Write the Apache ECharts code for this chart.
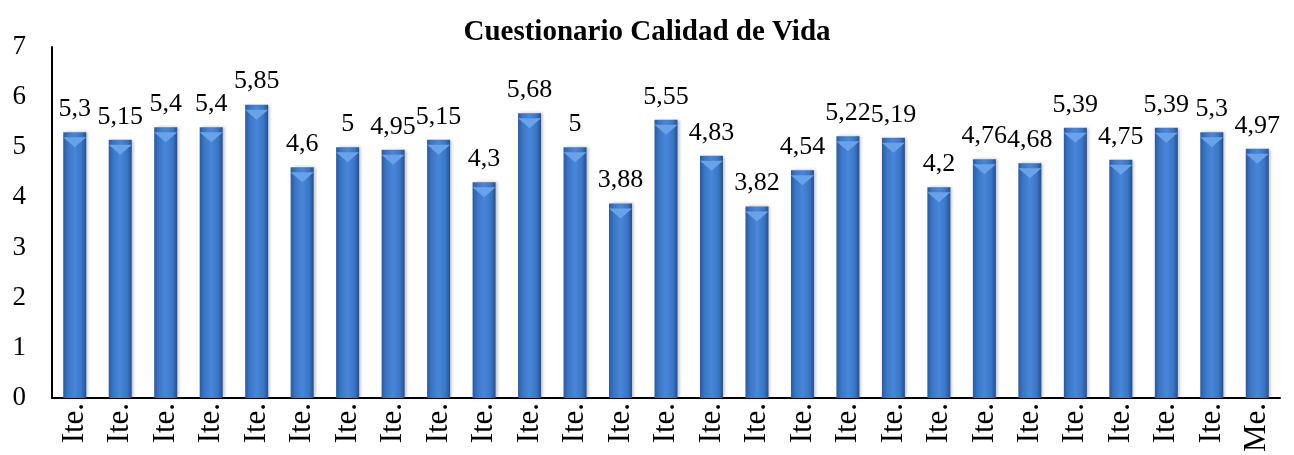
<!DOCTYPE html>
<html>
<head>
<meta charset="utf-8">
<script src="https://cdn.jsdelivr.net/npm/echarts@6/dist/echarts.min.js"></script>
<style>
html,body{margin:0;padding:0;background:#fff;}
#chart{width:1294px;height:455px;}
</style>
</head>
<body>
<div id="chart"></div>
<script>
const categories = ['Ite.','Ite.','Ite.','Ite.','Ite.','Ite.','Ite.','Ite.','Ite.','Ite.','Ite.','Ite.','Ite.','Ite.','Ite.','Ite.','Ite.','Ite.','Ite.','Ite.','Ite.','Ite.','Ite.','Ite.','Ite.','Ite.','Me.'];
const values = [5.3, 5.15, 5.4, 5.4, 5.85, 4.6, 5, 4.95, 5.15, 4.3, 5.68, 5, 3.88, 5.55, 4.83, 3.82, 4.54, 5.22, 5.19, 4.2, 4.76, 4.68, 5.39, 4.75, 5.39, 5.3, 4.97];
const yTicks = [0, 1, 2, 3, 4, 5, 6, 7];
const chartTitle = 'Cuestionario Calidad de Vida';

const FONT = '"Liberation Serif", "Times New Roman", serif';
const chart = echarts.init(document.getElementById('chart'));
chart.setOption({
  animation: false,
  title: {
    text: chartTitle, left: 'center', top: 13,
    textStyle: { fontFamily: FONT, fontWeight: 'bold', fontSize: 29, color: '#000' }
  },
  grid: { left: 52, right: 14, top: 47, bottom: 56 },
  xAxis: {
    type: 'category', data: categories,
    axisLine: { lineStyle: { color: '#000', width: 2 } },
    axisTick: { show: false },
    axisLabel: { rotate: 90, interval: 0, margin: 5, fontFamily: FONT, fontSize: 31, color: '#000' }
  },
  yAxis: {
    type: 'value', min: yTicks[0], max: yTicks[yTicks.length - 1], interval: 1,
    axisLine: { show: true, lineStyle: { color: '#000', width: 2 } },
    axisTick: { show: false },
    splitLine: { show: false },
    axisLabel: { margin: 26, fontFamily: FONT, fontSize: 27, color: '#000' }
  },
  series: [
    {
      type: 'bar', data: values, barWidth: 23,
      itemStyle: {
        color: new echarts.graphic.LinearGradient(0, 0, 1, 0, [
          { offset: 0, color: '#2a5a9e' },
          { offset: 0.2, color: '#3a76c6' },
          { offset: 0.5, color: '#4886d8' },
          { offset: 0.8, color: '#3a76c6' },
          { offset: 1, color: '#254f8c' }
        ]),
        shadowColor: 'rgba(0,0,0,0.25)', shadowBlur: 3, shadowOffsetX: 2
      },
      label: {
        show: true, position: 'top', distance: 10,
        fontFamily: FONT, fontSize: 26, color: '#000',
        formatter: p => String(p.value).replace('.', ',')
      }
    },
    {
      type: 'pictorialBar', data: values, barGap: '-100%',
      symbol: 'path://M0,0 L10,0 L5,4 Z',
      symbolSize: [23, 10], symbolPosition: 'end', symbolOffset: [0, '50%'],
      itemStyle: { color: '#6aa2ea' }, silent: true, z: 3
    }
  ]
});
</script>
</body>
</html>
